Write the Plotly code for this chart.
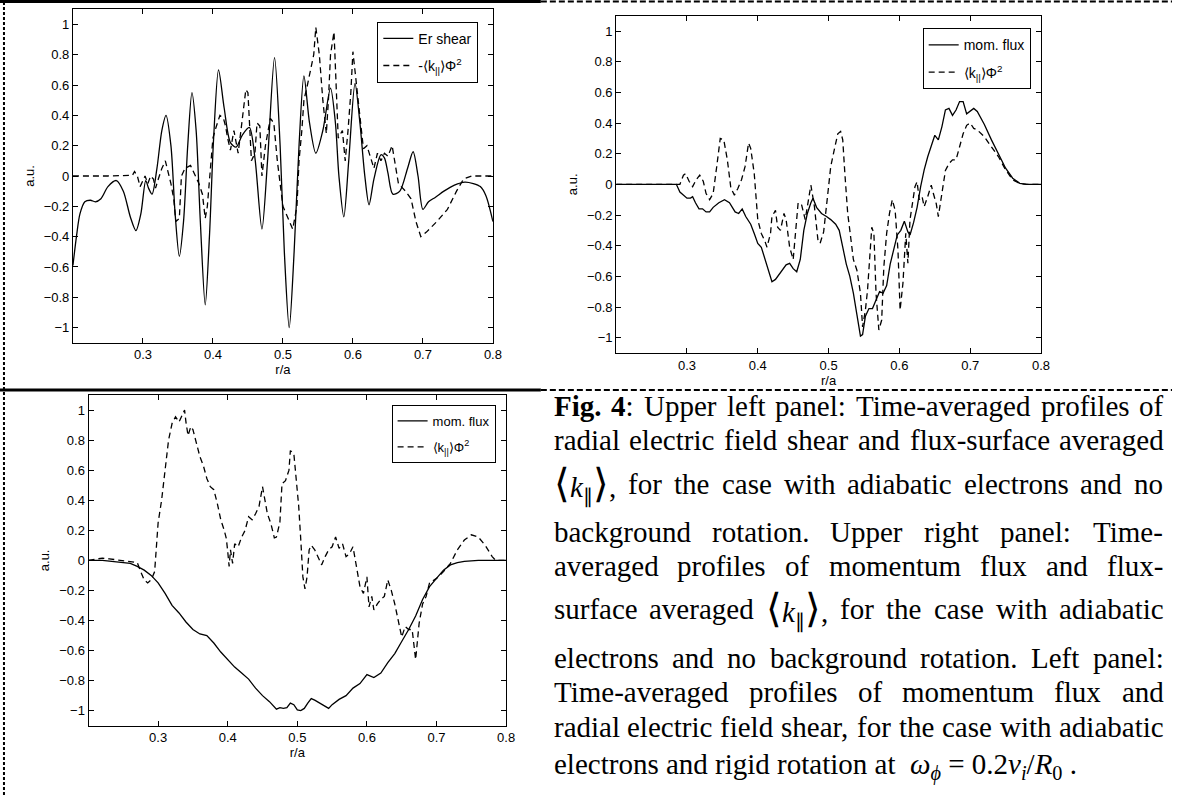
import plotly.graph_objects as go

W, H = 1181, 795

# ---------------- data ----------------
x_tick_vals = [0.3, 0.4, 0.5, 0.6, 0.7, 0.8]
x_tick_text = ["0.3", "0.4", "0.5", "0.6", "0.7", "0.8"]
y_tick_vals = [-1, -0.8, -0.6, -0.4, -0.2, 0, 0.2, 0.4, 0.6, 0.8, 1]
y_tick_text = ["\u22121", "\u22120.8", "\u22120.6", "\u22120.4", "\u22120.2", "0",
               "0.2", "0.4", "0.6", "0.8", "1"]

# upper left: Er shear (solid)
ul_er_x = [0.200, 0.205, 0.210, 0.217, 0.225, 0.232, 0.240, 0.250, 0.262, 0.272,
           0.282, 0.290, 0.297, 0.304, 0.308, 0.313, 0.320, 0.327, 0.333, 0.340,
           0.346, 0.352, 0.358, 0.364, 0.370, 0.376, 0.382, 0.389, 0.395, 0.401,
           0.408, 0.416, 0.425, 0.433, 0.442, 0.452, 0.460, 0.470, 0.478, 0.488,
           0.496, 0.502, 0.509, 0.516, 0.523, 0.530, 0.538, 0.547, 0.557, 0.568,
           0.575, 0.580, 0.587, 0.594, 0.603, 0.610, 0.617, 0.623, 0.630, 0.640,
           0.645, 0.650, 0.657, 0.667, 0.678, 0.686, 0.693, 0.700, 0.708, 0.718,
           0.730, 0.745, 0.760, 0.772, 0.782, 0.790, 0.800]
ul_er_y = [-0.59, -0.40, -0.25, -0.17, -0.16, -0.17, -0.15, -0.07, -0.03, -0.10,
           -0.27, -0.36, -0.25, -0.03, -0.08, -0.12, 0.05, 0.30, 0.40, 0.20,
           -0.25, -0.53, -0.30, 0.20, 0.55, 0.30, -0.30, -0.85, -0.40, 0.25,
           0.70, 0.45, 0.22, 0.19, 0.27, 0.32, 0.12, -0.35, 0.10, 0.78,
           0.20, -0.50, -1.00, -0.50, 0.20, 0.66, 0.35, 0.15, 0.30, 0.58,
           0.35, 0.00, -0.27, 0.10, 0.61, 0.35, 0.00, -0.19, -0.02, 0.14,
           0.12, 0.02, -0.12, -0.10, 0.05, 0.16, 0.00, -0.22, -0.17, -0.14,
           -0.10, -0.06, -0.04, -0.05, -0.07, -0.13, -0.30]

# upper left: -<k||>Phi^2 (dashed)
ul_k_x = [0.200, 0.250, 0.285, 0.288, 0.292, 0.296, 0.300, 0.303, 0.307, 0.311,
          0.315, 0.318, 0.322, 0.327, 0.332, 0.336, 0.340, 0.344, 0.347, 0.352,
          0.355, 0.360, 0.368, 0.375, 0.380, 0.385, 0.389, 0.392, 0.396, 0.400,
          0.405, 0.410, 0.415, 0.418, 0.421, 0.425, 0.430, 0.436, 0.440, 0.444,
          0.447, 0.450, 0.455, 0.460, 0.463, 0.467, 0.470, 0.475, 0.482, 0.487,
          0.492, 0.500, 0.507, 0.514, 0.520, 0.523, 0.527, 0.530, 0.535, 0.540,
          0.544, 0.547, 0.552, 0.557, 0.562, 0.565, 0.568, 0.573, 0.576, 0.579,
          0.585, 0.589, 0.593, 0.597, 0.600, 0.605, 0.608, 0.612, 0.615, 0.620,
          0.625, 0.630, 0.635, 0.640, 0.645, 0.650, 0.656, 0.660, 0.665, 0.675,
          0.683, 0.690, 0.697, 0.705, 0.720, 0.735, 0.748, 0.758, 0.770, 0.800]
ul_k_y = [0.0, 0.0, 0.005, 0.03, 0.0, -0.07, -0.03, 0.0, -0.05, 0.0,
          -0.02, -0.08, -0.02, 0.05, 0.10, 0.03, -0.05, -0.15, -0.30, -0.28,
          0.0, 0.05, 0.07, 0.0, -0.05, -0.12, -0.28, -0.20, 0.0, 0.25,
          0.33, 0.40, 0.38, 0.33, 0.25, 0.17, 0.30, 0.15, 0.30, 0.45,
          0.57, 0.55, 0.10, 0.15, 0.35, 0.33, 0.0, 0.20, 0.38, 0.35,
          0.10, -0.20, -0.28, -0.35, -0.20, 0.10, 0.30, 0.50, 0.60, 0.70,
          0.80, 0.98, 0.80, 0.50, 0.28, 0.50, 0.80, 0.95, 0.55, 0.25,
          0.30, 0.10, 0.30, 0.55, 0.82, 0.60, 0.45, 0.30, 0.18, 0.20,
          0.12, 0.05, 0.15, 0.10, 0.15, 0.13, 0.20, 0.10, -0.05, -0.10,
          -0.15, -0.30, -0.40, -0.37, -0.30, -0.22, -0.10, -0.02, 0.0, 0.0]

# upper right: momentum flux (solid)
ur_f_x = [0.200, 0.285, 0.290, 0.295, 0.300, 0.305, 0.308, 0.312, 0.317, 0.322,
          0.327, 0.332, 0.337, 0.345, 0.353, 0.360, 0.368, 0.373, 0.378, 0.383,
          0.390, 0.395, 0.400, 0.405, 0.410, 0.415, 0.420, 0.425, 0.430, 0.435,
          0.440, 0.445, 0.450, 0.455, 0.460, 0.465, 0.470, 0.475, 0.478, 0.483,
          0.490, 0.497, 0.503, 0.510, 0.515, 0.520, 0.525, 0.530, 0.535, 0.540,
          0.545, 0.548, 0.552, 0.557, 0.562, 0.567, 0.572, 0.577, 0.582, 0.587,
          0.592, 0.597, 0.602, 0.607, 0.612, 0.615, 0.620, 0.625, 0.630, 0.635,
          0.640, 0.645, 0.650, 0.655, 0.660, 0.665, 0.670, 0.675, 0.680, 0.685,
          0.690, 0.695, 0.700, 0.705, 0.710, 0.720, 0.730, 0.740, 0.750, 0.760,
          0.770, 0.780, 0.800]
ur_f_y = [0.0, 0.0, -0.05, -0.07, -0.09, -0.09, -0.08, -0.12, -0.16, -0.16,
          -0.18, -0.18, -0.15, -0.12, -0.10, -0.12, -0.18, -0.19, -0.16, -0.21,
          -0.26, -0.32, -0.385, -0.41, -0.49, -0.56, -0.635, -0.62, -0.59, -0.56,
          -0.525, -0.515, -0.55, -0.57, -0.49, -0.30, -0.19, -0.12, -0.09, -0.15,
          -0.19, -0.21, -0.23, -0.26, -0.30, -0.41, -0.52, -0.60, -0.71, -0.85,
          -0.99, -0.98, -0.86, -0.81, -0.81, -0.755, -0.70, -0.71, -0.66, -0.52,
          -0.42, -0.33, -0.30, -0.24, -0.31, -0.33, -0.25, -0.15, -0.015, 0.095,
          0.18, 0.245, 0.32, 0.29, 0.375, 0.485, 0.495, 0.45, 0.485, 0.54,
          0.54, 0.46, 0.475, 0.495, 0.475, 0.39, 0.29, 0.20, 0.105, 0.04,
          0.007, 0.0, 0.0]

# upper right: <k||>Phi^2 (dashed)
ur_k_x = [0.200, 0.290, 0.295, 0.298, 0.303, 0.308, 0.313, 0.318, 0.323, 0.327,
          0.332, 0.337, 0.342, 0.347, 0.352, 0.357, 0.362, 0.367, 0.372, 0.377,
          0.382, 0.387, 0.390, 0.395, 0.400, 0.405, 0.410, 0.413, 0.418, 0.420,
          0.425, 0.428, 0.432, 0.437, 0.440, 0.445, 0.450, 0.453, 0.457, 0.462,
          0.467, 0.470, 0.475, 0.480, 0.485, 0.488, 0.493, 0.498, 0.503, 0.508,
          0.513, 0.517, 0.520, 0.523, 0.527, 0.530, 0.535, 0.540, 0.545, 0.548,
          0.552, 0.555, 0.558, 0.561, 0.564, 0.567, 0.571, 0.575, 0.578, 0.582,
          0.586, 0.590, 0.594, 0.598, 0.601, 0.605, 0.609, 0.612, 0.615, 0.618,
          0.622, 0.625, 0.628, 0.632, 0.635, 0.640, 0.645, 0.648, 0.652, 0.655,
          0.660, 0.665, 0.670, 0.675, 0.680, 0.685, 0.690, 0.695, 0.700, 0.705,
          0.710, 0.720, 0.730, 0.740, 0.750, 0.760, 0.770, 0.780, 0.800]
ur_k_y = [0.0, 0.0, 0.06, 0.07, 0.02, -0.015, 0.03, 0.06, 0.02, -0.06,
          -0.10, -0.06, 0.115, 0.30, 0.29, 0.16, -0.025, -0.07, -0.025, 0.03,
          0.115, 0.27, 0.235, 0.07, -0.23, -0.32, -0.37, -0.41, -0.32, -0.21,
          -0.17, -0.28, -0.30, -0.19, -0.23, -0.41, -0.49, -0.32, -0.12, -0.135,
          -0.23, -0.145, -0.005, -0.145, -0.365, -0.385, -0.31, -0.10, 0.115, 0.225,
          0.33, 0.345, 0.29, 0.07, -0.19, -0.30, -0.49, -0.56, -0.71, -0.93,
          -0.82, -0.69, -0.45, -0.28, -0.32, -0.71, -0.95, -0.885, -0.54, -0.32,
          -0.19, -0.10, -0.17, -0.43, -0.82, -0.645, -0.32, -0.515, -0.23, -0.145,
          -0.015, 0.017, -0.10, -0.08, -0.145, -0.08, -0.005, -0.06, -0.125, -0.21,
          -0.06, 0.09, 0.135, 0.16, 0.16, 0.245, 0.33, 0.385, 0.40, 0.365,
          0.355, 0.31, 0.245, 0.18, 0.095, 0.03, 0.006, 0.0, 0.0]

# lower left: momentum flux (solid)
ll_f_x = [0.200, 0.220, 0.240, 0.260, 0.270, 0.280, 0.290, 0.300, 0.310, 0.320,
          0.330, 0.340, 0.350, 0.360, 0.370, 0.380, 0.390, 0.400, 0.410, 0.420,
          0.430, 0.440, 0.450, 0.460, 0.470, 0.475, 0.480, 0.485, 0.490, 0.495,
          0.500, 0.505, 0.510, 0.515, 0.520, 0.525, 0.530, 0.540, 0.545, 0.550,
          0.560, 0.570, 0.580, 0.590, 0.600, 0.610, 0.620, 0.630, 0.640, 0.650,
          0.660, 0.670, 0.680, 0.690, 0.700, 0.710, 0.720, 0.730, 0.740, 0.760,
          0.800]
ll_f_y = [0.0, 0.0, -0.01, -0.02, -0.04, -0.065, -0.10, -0.15, -0.22, -0.30,
          -0.35, -0.41, -0.46, -0.49, -0.50, -0.55, -0.61, -0.66, -0.71, -0.75,
          -0.79, -0.85, -0.90, -0.94, -0.99, -0.98, -0.985, -0.98, -0.95, -0.96,
          -0.995, -1.0, -0.985, -0.95, -0.92, -0.93, -0.945, -0.97, -0.985, -0.96,
          -0.925, -0.90, -0.85, -0.82, -0.76, -0.78, -0.75, -0.68, -0.62, -0.54,
          -0.46, -0.37, -0.26, -0.175, -0.12, -0.065, -0.03, -0.015, -0.007, 0.0,
          0.0]

# lower left: <k||>Phi^2 (dashed)
ll_k_x = [0.200, 0.220, 0.230, 0.250, 0.270, 0.275, 0.280, 0.285, 0.290, 0.295,
          0.300, 0.305, 0.310, 0.315, 0.320, 0.325, 0.330, 0.335, 0.338, 0.340,
          0.343, 0.347, 0.350, 0.355, 0.360, 0.365, 0.370, 0.375, 0.380, 0.385,
          0.390, 0.395, 0.398, 0.400, 0.402, 0.404, 0.407, 0.410, 0.415, 0.420,
          0.425, 0.430, 0.435, 0.440, 0.445, 0.450, 0.453, 0.457, 0.462, 0.467,
          0.470, 0.475, 0.478, 0.483, 0.488, 0.490, 0.495, 0.498, 0.502, 0.505,
          0.508, 0.511, 0.514, 0.517, 0.520, 0.525, 0.530, 0.535, 0.540, 0.545,
          0.550, 0.555, 0.560, 0.565, 0.570, 0.575, 0.580, 0.585, 0.590, 0.595,
          0.600, 0.603, 0.607, 0.610, 0.615, 0.620, 0.625, 0.630, 0.635, 0.640,
          0.645, 0.650, 0.655, 0.660, 0.665, 0.670, 0.675, 0.680, 0.685, 0.690,
          0.700, 0.710, 0.720, 0.730, 0.740, 0.750, 0.760, 0.770, 0.780, 0.785,
          0.800]
ll_k_y = [0.0, 0.015, 0.01, 0.0, -0.015, -0.075, -0.13, -0.15, -0.13, -0.075,
          0.25, 0.40, 0.62, 0.80, 0.91, 0.955, 0.92, 0.97, 1.0, 0.92,
          0.83, 0.89, 0.87, 0.78, 0.69, 0.63, 0.545, 0.49, 0.47, 0.38,
          0.27, 0.20, 0.145, 0.06, -0.04, 0.07, -0.02, 0.11, 0.09, 0.155,
          0.20, 0.29, 0.27, 0.31, 0.36, 0.49, 0.42, 0.31, 0.245, 0.15,
          0.155, 0.255, 0.51, 0.53, 0.60, 0.73, 0.71, 0.58, 0.36, 0.135,
          -0.11, -0.19, -0.11, 0.07, 0.10, 0.07, 0.025, -0.03, 0.025, 0.07,
          0.09, 0.155, 0.08, 0.11, 0.025, 0.045, 0.09, -0.04, -0.175, -0.22,
          -0.11, -0.31, -0.24, -0.33, -0.29, -0.26, -0.24, -0.13, -0.20, -0.29,
          -0.40, -0.51, -0.44, -0.46, -0.46, -0.66, -0.42, -0.29, -0.24, -0.15,
          -0.12, -0.075, -0.02, 0.07, 0.135, 0.17, 0.155, 0.10, 0.025, 0.0,
          0.0]

names_ul = ["Er shear", "-\u27e8k<sub>||</sub>\u27e9\u03a6<sup>2</sup>"]
names_ur = ["mom. flux", "\u27e8k<sub>||</sub>\u27e9\u03a6<sup>2</sup>"]
names_ll = ["mom. flux", "\u27e8k<sub>||</sub>\u27e9\u03a6<sup>2</sup>"]

# ---------------- figure ----------------
fig = go.Figure()
DASH = "6px,4px"


def add(x, y, name, dash, xa, ya, legend, group, shape="linear"):
    fig.add_trace(go.Scatter(
        x=x, y=y, mode="lines", name=name,
        line=dict(color="black", width=1.3, dash=dash, shape=shape,
                  smoothing=0.8 if shape == "spline" else None),
        xaxis=xa, yaxis=ya, legend=legend, legendgroup=group, hoverinfo="skip"))


add(ul_er_x, ul_er_y, names_ul[0], "solid", "x", "y", "legend", "a", "spline")
add(ul_k_x, ul_k_y, names_ul[1], DASH, "x", "y", "legend", "b")
add(ur_f_x, ur_f_y, names_ur[0], "solid", "x2", "y2", "legend2", "c")
add(ur_k_x, ur_k_y, names_ur[1], DASH, "x2", "y2", "legend2", "d")
add(ll_f_x, ll_f_y, names_ll[0], "solid", "x3", "y3", "legend3", "e")
add(ll_k_x, ll_k_y, names_ll[1], DASH, "x3", "y3", "legend3", "f")


def dx(a, b):
    return [a / W, b / W]


def dy(top, bottom):
    return [1 - bottom / H, 1 - top / H]


TICKFONT = dict(family="Liberation Sans, Arial, sans-serif", size=13, color="black")


def xax(domain, anchor):
    return dict(domain=domain, anchor=anchor, range=[0.2, 0.8], tickvals=x_tick_vals,
                ticktext=x_tick_text, ticks="inside", ticklen=5, tickcolor="black",
                showline=True, linecolor="black", linewidth=1, mirror="ticks",
                showgrid=False, zeroline=False, tickfont=TICKFONT,
                title=dict(text="r/a", font=TICKFONT, standoff=2))


def yax(domain, anchor):
    return dict(domain=domain, anchor=anchor, range=[-1.1, 1.1], tickvals=y_tick_vals,
                ticktext=y_tick_text, ticks="inside", ticklen=5, tickcolor="black",
                showline=True, linecolor="black", linewidth=1, mirror="ticks",
                showgrid=False, zeroline=False, tickfont=TICKFONT,
                title=dict(text="a.u.", font=TICKFONT, standoff=6))


LEGFONT = dict(family="Liberation Sans, Arial, sans-serif", size=14, color="black")


def leg(right, top, size=14):
    return dict(x=right / W, y=1 - top / H, xanchor="right", yanchor="top",
                bordercolor="black", borderwidth=1, bgcolor="white",
                font=dict(LEGFONT, size=size), tracegroupgap=6, itemwidth=30)


fig.update_layout(
    width=W, height=H, margin=dict(l=0, r=0, t=0, b=0),
    paper_bgcolor="white", plot_bgcolor="white", showlegend=True,
    xaxis=xax(dx(73.5, 496.7), "y"), yaxis=yax(dy(9.2, 342.8), "x"),
    xaxis2=xax(dx(620.9, 1049), "y2"), yaxis2=yax(dy(15.7, 353.0), "x2"),
    xaxis3=xax(dx(89.2, 510), "y3"), yaxis3=yax(dy(395, 725.7), "x3"),
    legend=leg(482, 21.7), legend2=leg(1038.6, 28.3), legend3=leg(499.4, 405, 13),
)

# ---------------- page frame lines ----------------
def hline(x0, x1, y, width, dash):
    return dict(type="line", xref="paper", yref="paper", x0=x0 / W, x1=x1 / W,
                y0=1 - y / H, y1=1 - y / H, line=dict(color="black", width=width, dash=dash))


shapes = [
    hline(0, 545, 1.5, 3, "solid"),
    hline(545, W, 1.5, 2, "6px,3px"),
    hline(0, 545, 390, 3, "solid"),
    hline(545, W, 390, 2, "6px,3px"),
    dict(type="line", xref="paper", yref="paper", x0=4 / W, x1=4 / W, y0=0, y1=1,
         line=dict(color="black", width=2, dash="3px,2px")),
]
fig.update_layout(shapes=shapes)

# ---------------- caption (justified, word by word) ----------------
CAP_FONT = 29
CAP_LEFT, CAP_RIGHT = 557, 1171
cap_baselines = [416, 450, 494, 542, 576, 619, 668, 702, 737, 776]

TW = {' ': 250, 'a': 444, 'b': 500, 'c': 444, 'd': 500, 'e': 444, 'f': 333, 'g': 500,
      'h': 500, 'i': 278, 'j': 278, 'k': 500, 'l': 278, 'm': 778, 'n': 500, 'o': 500,
      'p': 500, 'q': 500, 'r': 333, 's': 389, 't': 278, 'u': 500, 'v': 500, 'w': 722,
      'x': 500, 'y': 500, 'z': 444, 'F': 556, 'L': 611, 'T': 611, 'U': 722, 'R': 667,
      ':': 278, ',': 250, '.': 250, '-': 333, '4': 500}
TWB = {'F': 611, 'i': 278, 'g': 500, '.': 250, '4': 500}


def tw(s, table=TW):
    return sum(table.get(c, 500) for c in s) / 1000.0


KP = ('<span style="font-size:40px">\u27e8</span><i>k</i><sub>\u2225</sub>'
      '<span style="font-size:40px">\u27e9</span>,')
KP_W = 2.15

cap_lines = [
    [("<b>Fig.</b>", tw("Fig.", TWB)), ("<b>4</b>:", tw("4", TWB) + tw(":")),
     "Upper", "left", "panel:", "Time-averaged", "profiles", "of"],
    ["radial", "electric", "field", "shear", "and", "flux-surface", "averaged"],
    [(KP, KP_W), "for", "the", "case", "with", "adiabatic", "electrons", "and", "no"],
    ["background", "rotation.", "Upper", "right", "panel:", "Time-"],
    ["averaged", "profiles", "of", "momentum", "flux", "and", "flux-"],
    ["surface", "averaged", (KP, KP_W), "for", "the", "case", "with", "adiabatic"],
    ["electrons", "and", "no", "background", "rotation.", "Left", "panel:"],
    ["Time-averaged", "profiles", "of", "momentum", "flux", "and"],
    ["radial", "electric", "field", "shear,", "for", "the", "case", "with", "adiabatic"],
]
last_line = ("electrons and rigid rotation at  <i>\u03c9</i><sub><i>\u03d5</i></sub> = "
             "0.2<i>v</i><sub><i>i</i></sub>/<i>R</i><sub>0</sub> .")

CAPFONT = dict(family="Liberation Serif, Times New Roman, serif", size=CAP_FONT, color="black")
annotations = []


def word_ann(text, xpx, base):
    return dict(text=text, x=xpx / W, y=1 - (base - 0.33 * CAP_FONT) / H,
                xref="paper", yref="paper", xanchor="left", yanchor="middle",
                showarrow=False, font=CAPFONT, borderpad=0)


for toks, base in zip(cap_lines, cap_baselines):
    items = []
    for t in toks:
        if isinstance(t, tuple):
            items.append((t[0], t[1] * CAP_FONT))
        else:
            items.append((t, tw(t) * CAP_FONT))
    total = sum(w for _, w in items)
    gap = (CAP_RIGHT - CAP_LEFT - total) / (len(items) - 1)
    xpos = CAP_LEFT
    for text, w in items:
        annotations.append(word_ann(text, xpos, base))
        xpos += w + gap

annotations.append(word_ann(last_line, CAP_LEFT, cap_baselines[-1]))

fig.update_layout(annotations=annotations)

fig.write_html("out.html")
